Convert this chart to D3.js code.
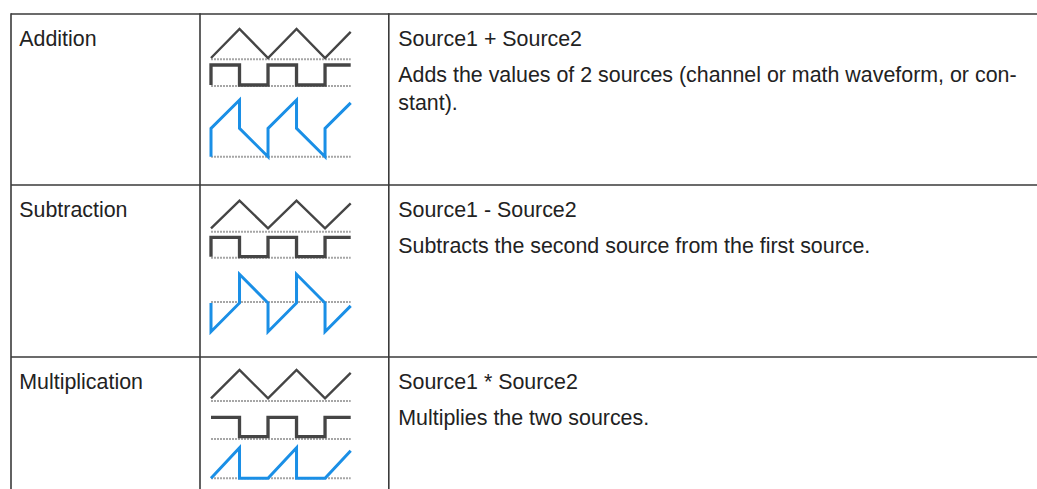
<!DOCTYPE html>
<html>
<head>
<meta charset="utf-8">
<script src="https://cdn.jsdelivr.net/npm/d3@7"></script>
<style>
  html, body { margin: 0; padding: 0; background: #fff; }
  svg { display: block; }
</style>
</head>
<body>
<svg id="chart" width="1037" height="489"></svg>
<script>
// ---------- data ----------
const operations = ["Addition", "Subtraction", "Multiplication"];
const formulas = ["Source1 + Source2", "Source1 - Source2", "Source1 * Source2"];
const descriptions = [
  ["Adds the values of 2 sources (channel or math waveform, or con-", "stant)."],
  ["Subtracts the second source from the first source."],
  ["Multiplies the two sources."]
];
// waveforms as [time (half periods), value]
const triangleWave = [[0,0],[1,1],[2,0],[3,1],[4,0],[4.9,0.9]];
const squareWaveA = [[0,0],[0,1],[1,1],[1,0],[2,0],[2,1],[3,1],[3,0],[4,0],[4,1],[4.9,1]];
const squareWaveM = [[0,1],[1,1],[1,0],[2,0],[2,1],[3,1],[3,0],[4,0],[4,1],[4.9,1]];
const additionWave = [[0,0],[0,1],[1,2],[1,1],[2,0],[2,1],[3,2],[3,1],[4,0],[4,1],[4.9,1.9]];
const subtractionWave = [[0,0],[0,-1],[1,0],[1,1],[2,0],[2,-1],[3,0],[3,1],[4,0],[4,-1],[4.9,-0.1]];
const multiplicationWave = [[0,0],[1,1],[1,0],[2,0],[3,1],[3,0],[4,0],[4.9,0.9]];
const squareWaves = [squareWaveA, squareWaveA, squareWaveM];
const resultWaves = [additionWave, subtractionWave, multiplicationWave];
const resultDomains = [[0, 2], [-1, 1], [0, 1]];

// ---------- layout ----------
const W = 1037, H = 489;
const tableLeft = 11, col2 = 200, col3 = 388.8, tableTop = 14;
const rowTops = [14, 185, 357];
const textCol1 = 19.3, textCol3 = 398.3;
// icon vertical layout offsets (relative to row top)
const iconLayout = [
  { tri: [44, 15], triBase: 45.3, sq: [71, 51], sqBase: 72, res: [142.7, 86], resBase: 142.7 },
  { tri: [43.3, 15.7], triBase: 46.7, sq: [71.7, 52.3], sqBase: 72.7, res: [146.7, 89.3], resBase: 117 },
  { tri: [41.3, 13], triBase: 44, sq: [79.7, 60.3], sqBase: 82, res: [121.3, 90.7], resBase: 121.3 }
];
const lineColor = "#3a3a3a";
const waveGrey = "#454545";
const blue = "#1a8fe6";
const dotGrey = "#a6a6a6";
const textColor = "#222";
const font = "'Liberation Sans', Arial, Helvetica, sans-serif";
const fontSize = 21.4;

const svg = d3.select("#chart");

// table grid
const grid = svg.append("g").attr("stroke", lineColor).attr("stroke-width", 1.6);
rowTops.forEach(y => grid.append("line").attr("x1", tableLeft).attr("x2", W).attr("y1", y).attr("y2", y));
[tableLeft, col2, col3].forEach(x => grid.append("line").attr("x1", x).attr("x2", x).attr("y1", tableTop - 0.8).attr("y2", H));

const x = d3.scaleLinear().domain([0, 4.9]).range([211, 350.7]);

operations.forEach((op, i) => {
  const top = rowTops[i];
  const L = iconLayout[i];
  const g = svg.append("g");

  // texts
  g.append("text").attr("x", textCol1).attr("y", top + 31.7)
    .attr("font-family", font).attr("font-size", fontSize).attr("fill", textColor).text(op);
  g.append("text").attr("x", textCol3).attr("y", top + 31.5)
    .attr("font-family", font).attr("font-size", fontSize).attr("fill", textColor).text(formulas[i]);
  descriptions[i].forEach((ln, j) => {
    g.append("text").attr("x", textCol3).attr("y", top + 67.8 + j * 28)
      .attr("font-family", font).attr("font-size", fontSize).attr("fill", textColor).text(ln);
  });

  const yTri = d3.scaleLinear().domain([0, 1]).range([top + L.tri[0], top + L.tri[1]]);
  const ySq = d3.scaleLinear().domain([0, 1]).range([top + L.sq[0], top + L.sq[1]]);
  const yRes = d3.scaleLinear().domain(resultDomains[i]).range([top + L.res[0], top + L.res[1]]);

  // dotted base lines
  [top + L.triBase, top + L.sqBase, top + L.resBase].forEach(yy => {
    g.append("line").attr("x1", x(0)).attr("x2", x(4.9)).attr("y1", yy).attr("y2", yy)
      .attr("stroke", dotGrey).attr("stroke-width", 2).attr("stroke-dasharray", "2 1");
  });

  const lineTri = d3.line().x(d => x(d[0])).y(d => yTri(d[1]));
  const lineSq = d3.line().x(d => x(d[0])).y(d => ySq(d[1]));
  const lineRes = d3.line().x(d => x(d[0])).y(d => yRes(d[1]));

  g.append("path").attr("d", lineTri(triangleWave)).attr("fill", "none")
    .attr("stroke", waveGrey).attr("stroke-width", 2.4).attr("stroke-linejoin", "miter");
  g.append("path").attr("d", lineSq(squareWaves[i])).attr("fill", "none")
    .attr("stroke", waveGrey).attr("stroke-width", 3.3).attr("stroke-linejoin", "miter");
  g.append("path").attr("d", lineRes(resultWaves[i])).attr("fill", "none")
    .attr("stroke", blue).attr("stroke-width", 3).attr("stroke-linejoin", "miter");
});
</script>
</body>
</html>
